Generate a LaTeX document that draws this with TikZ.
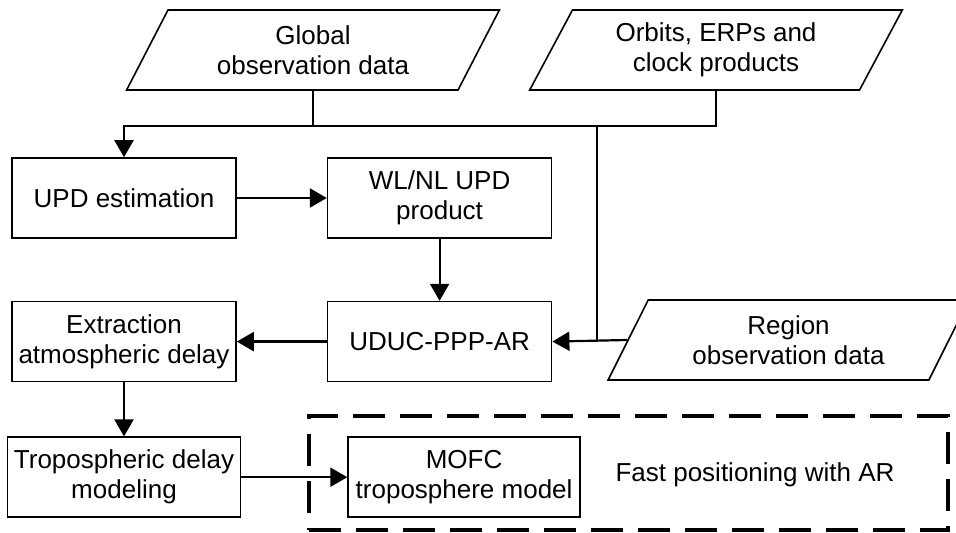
\documentclass[tikz,border=0pt]{standalone}
\usepackage{fontspec}
\setmainfont{Liberation Sans}
\usepackage{xcolor}
\usepackage{tikz}
\usetikzlibrary{positioning,arrows.meta,shapes.geometric}

\begin{document}
\begin{tikzpicture}[
    font=\fontsize{13}{15}\selectfont,
    process/.style={
        rectangle,
        draw,
        line width=0.8pt,
        align=center,
        inner sep=1pt,
        minimum width=112pt,
        minimum height=40pt
    },
    data/.style={
        trapezium,
        trapezium left angle=63.43,
        trapezium right angle=116.57,
        trapezium stretches=true,
        draw,
        line width=0.8pt,
        align=center,
        inner sep=2pt,
        minimum width=186.5pt,
        minimum height=40pt
    },
    group/.style={
        rectangle,
        draw,
        line width=2pt,
        dash pattern=on 16pt off 7.5pt,
        minimum width=319.5pt,
        minimum height=57pt
    },
    link/.style={line width=1.1pt},
    arrow/.style={-{Triangle[length=8.5pt,width=9.5pt]}, line width=1.1pt}
]
\useasboundingbox (0,0) rectangle (478pt,-266.5pt);

% inputs
\node[data] (global) at (156.5pt,-25pt) {Global\\observation data};
\node[data] (orbits) at (358pt,-25pt) {Orbits, ERPs and\\clock products};
\node[data, minimum width=180.5pt] (region) at (394.25pt,-170pt) {Region\\observation data};

% processing chain
\node[process] (upd) at (62pt,-99pt) {UPD estimation};
\node[process, right=45pt of upd] (product) {WL/NL UPD\\product};
\node[process, below=31pt of product] (uduc) {UDUC-PPP-AR};
\node[process, below=31pt of upd] (extract) {Extraction\\atmospheric delay};
\node[process, minimum width=116.5pt, below=27pt of extract] (tropo) {Tropospheric delay\\modeling};
\node[process, minimum width=116pt, right=53pt of tropo] (mofc) {MOFC\\troposphere model};

% application block
\node[group] (fastbox) at (314.25pt,-236.5pt) {};
\node (fastlabel) at (377.5pt,-237.5pt) {Fast positioning with AR};

\coordinate (bus) at (298.5pt,-63pt);

\draw[link] (global.center |- global.south) -- (global.center |- bus);
\draw[arrow] (orbits.center |- orbits.south) |- (upd.north |- bus) -- (upd.north);
\draw[link] (bus) -- (bus |- uduc.east);
\draw[arrow] (region.west) -- (uduc.east);
\draw[arrow] (upd) -- (product);
\draw[arrow] (product) -- (uduc);
\draw[arrow] (uduc) -- (extract);
\draw[arrow] (extract) -- (tropo);
\draw[arrow] (tropo) -- (mofc);

\end{tikzpicture}
\end{document}
